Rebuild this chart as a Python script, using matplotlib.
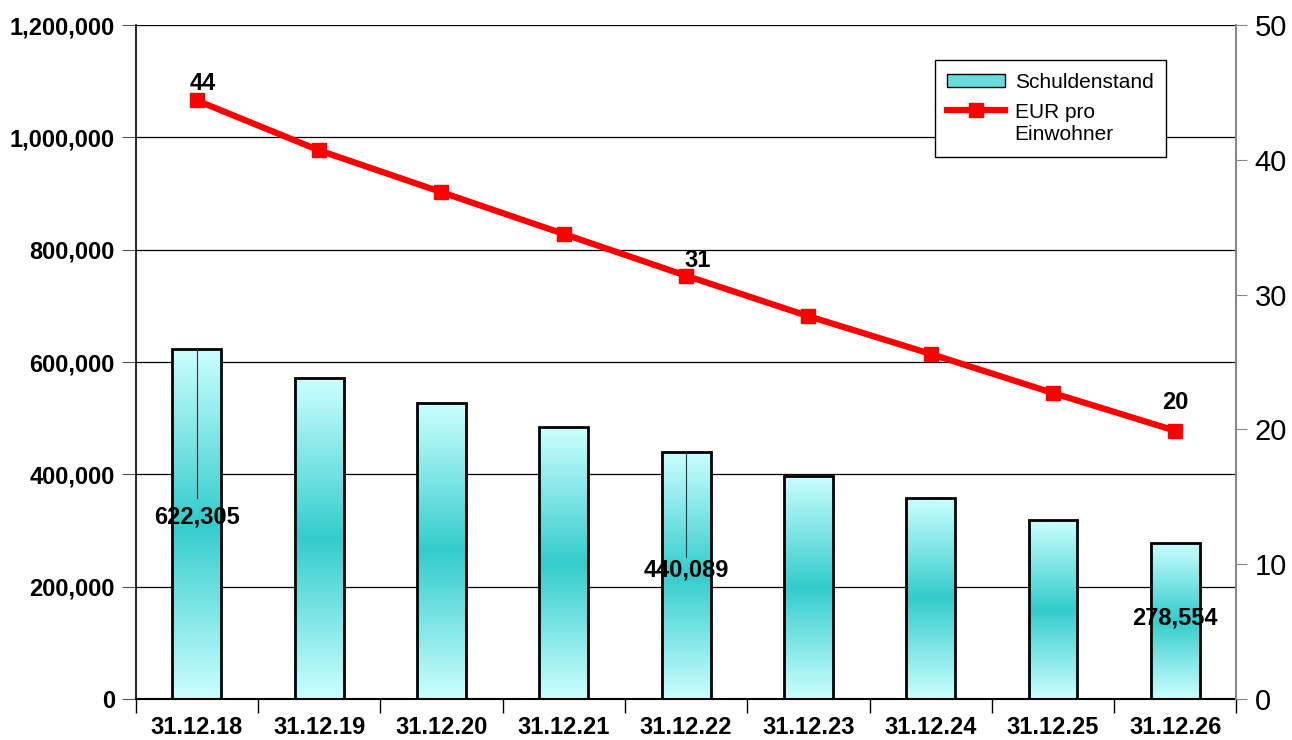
import matplotlib.pyplot as plt
import matplotlib.transforms as mtransforms
import numpy as np
from matplotlib.colors import LinearSegmentedColormap
from matplotlib.legend_handler import HandlerLine2D
from matplotlib.lines import Line2D
from matplotlib.patches import Patch, Rectangle
from matplotlib.ticker import FuncFormatter

# data
dates = ['31.12.18', '31.12.19', '31.12.20', '31.12.21', '31.12.22',
         '31.12.23', '31.12.24', '31.12.25', '31.12.26']
debt = [622305, 571500, 527000, 484000, 440089, 397500, 358000, 318500, 278554]
per_capita = [44.4, 40.7, 37.6, 34.5, 31.4, 28.4, 25.6, 22.7, 19.9]
labelled = [0, 4, 8]


class RaisedLineHandler(HandlerLine2D):
    """Line handle lifted up to sit next to the first line of a 2-line label."""

    def __init__(self, dy=0, **kw):
        super().__init__(**kw)
        self.dy = dy

    def create_artists(self, legend, orig_handle, xdescent, ydescent,
                       width, height, fontsize, trans):
        arts = super().create_artists(legend, orig_handle, xdescent, ydescent,
                                      width, height, fontsize, trans)
        shift = mtransforms.Affine2D().translate(0, self.dy) + trans
        for a in arts:
            a.set_transform(shift)
        return arts


plt.rcParams['font.family'] = ['Liberation Sans', 'DejaVu Sans']

fig = plt.figure(figsize=(12.92, 7.40), dpi=100)
ax = fig.add_axes([0.105, 0.0554, 0.852, 0.9108])
ax2 = ax.twinx()

x = np.arange(len(dates))
bar_w = 0.4

# vertical gradient: light at the ends, teal in the middle
cmap = LinearSegmentedColormap.from_list(
    'teal', ['#ccffff', '#33cccc', '#ccffff'])
grad = np.linspace(0, 1, 256).reshape(-1, 1)

for xi, v in zip(x, debt):
    im = ax.imshow(grad, cmap=cmap, aspect='auto', origin='upper',
                   extent=[xi - bar_w / 2, xi + bar_w / 2, 0, v], zorder=2)
    rect = Rectangle((xi - bar_w / 2, 0), bar_w, v, facecolor='none',
                     edgecolor='black', linewidth=2, zorder=3)
    ax.add_patch(rect)
    im.set_clip_path(rect)

ax.set_xlim(-0.5, len(dates) - 0.5)
ax.set_ylim(0, 1200000)
ax.set_yticks(np.arange(0, 1200001, 200000))
ax.yaxis.set_major_formatter(FuncFormatter(lambda v, p: f'{int(v):,}'))
ax.grid(axis='y', color='black', linewidth=0.9)
ax.set_axisbelow(True)

# category ticks sit between the bars
ax.set_xticks(x)
ax.set_xticklabels(dates, fontsize=17, fontweight='bold')
ax.set_xticks(np.arange(-0.5, len(dates)), minor=True)
ax.tick_params(axis='x', which='major', length=0, pad=12)
ax.tick_params(axis='x', which='minor', length=10, width=1, direction='out')
ax.tick_params(axis='y', labelsize=17, length=10, color='#555555', pad=5)
for lab in ax.get_yticklabels():
    lab.set_fontweight('bold')

for s in ['top', 'right']:
    ax.spines[s].set_visible(False)
ax.spines['left'].set_linewidth(1.2)
ax.spines['bottom'].set_linewidth(1.5)

# bar value labels with leader lines
for i in labelled:
    v = debt[i]
    ax.text(x[i], v * 0.52, f'{v:,}', ha='center', va='center',
            fontsize=17, fontweight='bold', zorder=5)
    if i != len(dates) - 1:
        ax.plot([x[i], x[i]], [v, v * 0.575], color='#333333',
                linewidth=0.8, zorder=4)

# per capita line on the secondary axis
ax2.plot(x, per_capita, color='#ff0000', linewidth=4.5, marker='s',
         markersize=10, zorder=5)
ax2.set_ylim(0, 50)
ax2.set_yticks(np.arange(0, 51, 10))
ax2.tick_params(axis='y', labelsize=21, length=8, color='#888888', pad=5)
for s in ['top', 'left', 'bottom']:
    ax2.spines[s].set_visible(False)
ax2.spines['right'].set_color('#888888')
ax2.spines['right'].set_linewidth(1.5)

label_offsets = {0: (4, 12), 4: (8, 11), 8: (0, 20)}
for i in labelled:
    ax2.annotate(f'{per_capita[i]:.0f}', (x[i], per_capita[i]),
                 xytext=label_offsets[i], textcoords='offset points',
                 ha='center', va='center', fontsize=17, fontweight='bold')

bar_handle = Patch(facecolor='#66dddd', edgecolor='black', linewidth=1)
line_handle = Line2D([], [], color='#ff0000', linewidth=4.5, marker='s',
                     markersize=10)
leg = ax2.legend([bar_handle, line_handle],
                 ['Schuldenstand', 'EUR pro\nEinwohner'],
                 handler_map={line_handle: RaisedLineHandler(dy=10)},
                 loc='upper right', bbox_to_anchor=(0.936, 0.948),
                 borderaxespad=0, fontsize=15, frameon=True, fancybox=False,
                 edgecolor='black', framealpha=1, borderpad=0.6,
                 handlelength=2.8, handleheight=0.6, labelspacing=0.55,
                 handletextpad=0.45)
leg.get_frame().set_linewidth(1)

fig.savefig('out.png', dpi=100)
